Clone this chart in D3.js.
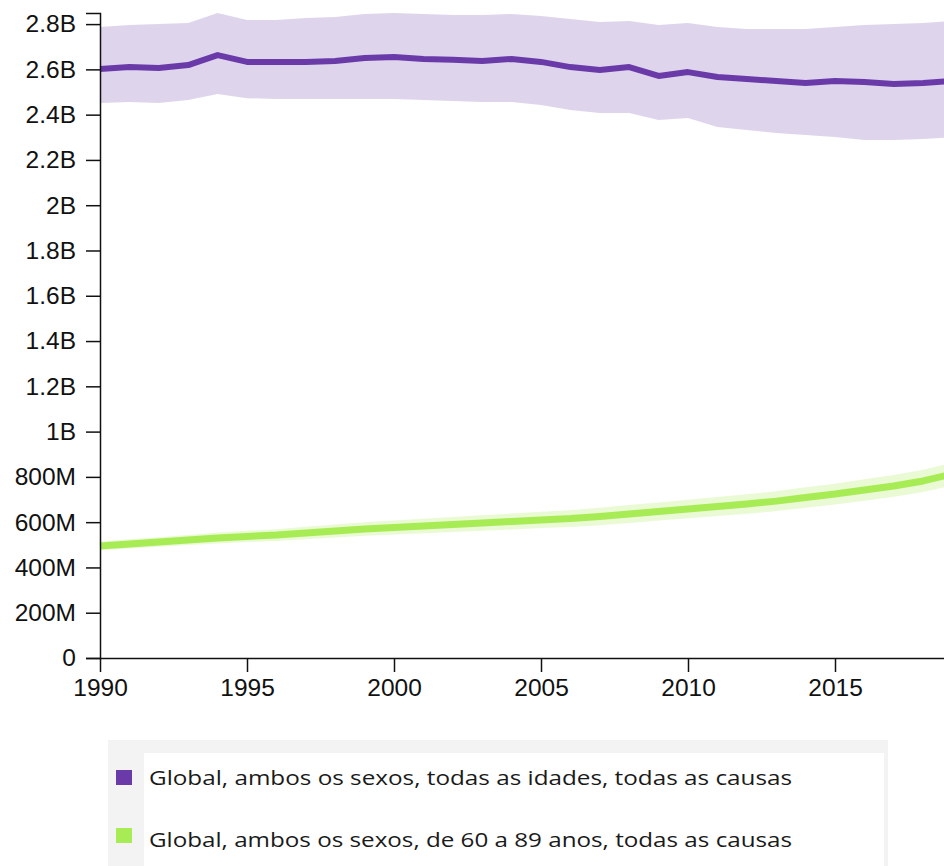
<!DOCTYPE html>
<html>
<head>
<meta charset="utf-8">
<script src="https://cdn.jsdelivr.net/npm/d3@7"></script>
<style>
  html, body { margin: 0; padding: 0; background: #fff; }
  svg { display: block; }
  .axis text { font-family: "Liberation Sans", Arial, sans-serif; font-size: 24.5px; fill: #111; }
  .axis path, .axis line { stroke: #111; stroke-width: 1.5; }
  .legend text { font-family: "Open Sans", "Noto Sans", sans-serif; font-size: 20px; fill: #1a1a1a; }
</style>
</head>
<body>
<svg id="chart" width="944" height="866"></svg>
<script>
// Years shown on the x axis
const years = d3.range(1990, 2020);

// Global, both sexes, all ages, all causes (estimate and uncertainty bounds)
const allAgesMean = [2.602, 2.610, 2.606, 2.619, 2.663, 2.633, 2.633, 2.633, 2.637, 2.650,
                     2.655, 2.646, 2.642, 2.637, 2.646, 2.633, 2.610, 2.597, 2.610, 2.571,
                     2.588, 2.566, 2.557, 2.549, 2.540, 2.549, 2.544, 2.535, 2.540, 2.549];
const allAgesUpper = [2.787, 2.796, 2.800, 2.805, 2.849, 2.818, 2.818, 2.827, 2.831, 2.845,
                      2.849, 2.845, 2.840, 2.840, 2.845, 2.836, 2.822, 2.809, 2.814, 2.796,
                      2.805, 2.787, 2.778, 2.778, 2.778, 2.787, 2.796, 2.800, 2.805, 2.814];
const allAgesLower = [2.451, 2.456, 2.451, 2.465, 2.491, 2.473, 2.469, 2.469, 2.469, 2.469,
                      2.469, 2.465, 2.460, 2.456, 2.456, 2.443, 2.420, 2.407, 2.407, 2.376,
                      2.385, 2.345, 2.332, 2.319, 2.310, 2.301, 2.288, 2.288, 2.292, 2.301];

// Global, both sexes, ages 60 to 89, all causes
const olderMean = [0.495, 0.504, 0.512, 0.521, 0.530, 0.537, 0.543, 0.552, 0.561, 0.570,
                   0.576, 0.583, 0.590, 0.596, 0.603, 0.610, 0.616, 0.625, 0.636, 0.647,
                   0.658, 0.669, 0.680, 0.693, 0.709, 0.724, 0.742, 0.760, 0.782, 0.813];
const olderUpper = [0.513, 0.524, 0.533, 0.543, 0.554, 0.562, 0.569, 0.580, 0.590, 0.600,
                    0.607, 0.615, 0.623, 0.630, 0.638, 0.646, 0.653, 0.664, 0.676, 0.687,
                    0.699, 0.711, 0.723, 0.737, 0.754, 0.770, 0.789, 0.808, 0.831, 0.863];
const olderLower = [0.477, 0.484, 0.491, 0.499, 0.506, 0.512, 0.517, 0.524, 0.532, 0.540,
                    0.545, 0.551, 0.557, 0.562, 0.568, 0.574, 0.579, 0.586, 0.596, 0.607,
                    0.617, 0.627, 0.637, 0.649, 0.664, 0.678, 0.695, 0.712, 0.733, 0.763];

// Axis ticks
const yTickValues = [0, 0.2, 0.4, 0.6, 0.8, 1.0, 1.2, 1.4, 1.6, 1.8, 2.0, 2.2, 2.4, 2.6, 2.8];
const xTickValues = [1990, 1995, 2000, 2005, 2010, 2015];

const seriesNames = [
  "Global, ambos os sexos, todas as idades, todas as causas",
  "Global, ambos os sexos, de 60 a 89 anos, todas as causas"
];
const seriesColors = ["#6a3ba8", "#a8ec55"];

const series = [
  { name: seriesNames[0], color: seriesColors[0], mean: allAgesMean, upper: allAgesUpper, lower: allAgesLower, width: 6, bandOpacity: 0.22 },
  { name: seriesNames[1], color: seriesColors[1], mean: olderMean, upper: olderUpper, lower: olderLower, width: 7, bandOpacity: 0.25 }
];

const svg = d3.select("#chart");
const marginLeft = 100, axisBottomY = 658, plotTopY = 13;

const x = d3.scaleLinear().domain([1990, 2019]).range([marginLeft, marginLeft + 29 * 29.4]);
const yMax = d3.max(series.flatMap(s => s.upper)) * 1e9;
const y = d3.scaleLinear().domain([0, yMax]).range([axisBottomY, plotTopY]);

const plot = svg.append("g");

// Uncertainty bands
series.forEach(s => {
  const area = d3.area()
    .x((d, i) => x(years[i]))
    .y0((d, i) => y(s.lower[i] * 1e9))
    .y1((d, i) => y(s.upper[i] * 1e9));
  plot.append("path")
    .datum(years)
    .attr("d", area)
    .attr("fill", s.color)
    .attr("fill-opacity", s.bandOpacity);
});

// Mean lines
series.forEach(s => {
  const line = d3.line()
    .x((d, i) => x(years[i]))
    .y((d, i) => y(s.mean[i] * 1e9));
  plot.append("path")
    .datum(years)
    .attr("d", line)
    .attr("fill", "none")
    .attr("stroke", s.color)
    .attr("stroke-width", s.width)
    .attr("stroke-linejoin", "round");
});

const fmt = v => v === 0 ? "0" : d3.format("~s")(v).replace("G", "B");

// Y axis
svg.append("g")
  .attr("class", "axis")
  .attr("transform", `translate(${marginLeft},0)`)
  .call(d3.axisLeft(y)
    .tickValues(yTickValues.map(v => v * 1e9))
    .tickFormat(fmt)
    .tickSizeInner(14)
    .tickSizeOuter(14)
    .tickPadding(10));

// X axis
svg.append("g")
  .attr("class", "axis")
  .attr("transform", `translate(0,${axisBottomY})`)
  .call(d3.axisBottom(x)
    .tickValues(xTickValues)
    .tickFormat(d3.format("d"))
    .tickSizeInner(14)
    .tickSizeOuter(0)
    .tickPadding(7));

// Legend
const legend = svg.append("g").attr("class", "legend");
legend.append("rect")
  .attr("x", 108).attr("y", 740).attr("width", 780).attr("height", 140)
  .attr("fill", "#f3f3f3");
legend.append("rect")
  .attr("x", 144).attr("y", 753).attr("width", 740).attr("height", 130)
  .attr("fill", "#ffffff");

const rows = legend.selectAll("g.row")
  .data(series)
  .join("g")
  .attr("class", "row");

rows.append("rect")
  .attr("x", 116)
  .attr("y", (d, i) => 770 + i * 58)
  .attr("width", 16).attr("height", 15)
  .attr("fill", d => d.color);

rows.append("text")
  .attr("x", 149)
  .attr("y", (d, i) => 785 + i * 62)
  .attr("textLength", 643)
  .attr("lengthAdjust", "spacingAndGlyphs")
  .text(d => d.name);
</script>
</body>
</html>
